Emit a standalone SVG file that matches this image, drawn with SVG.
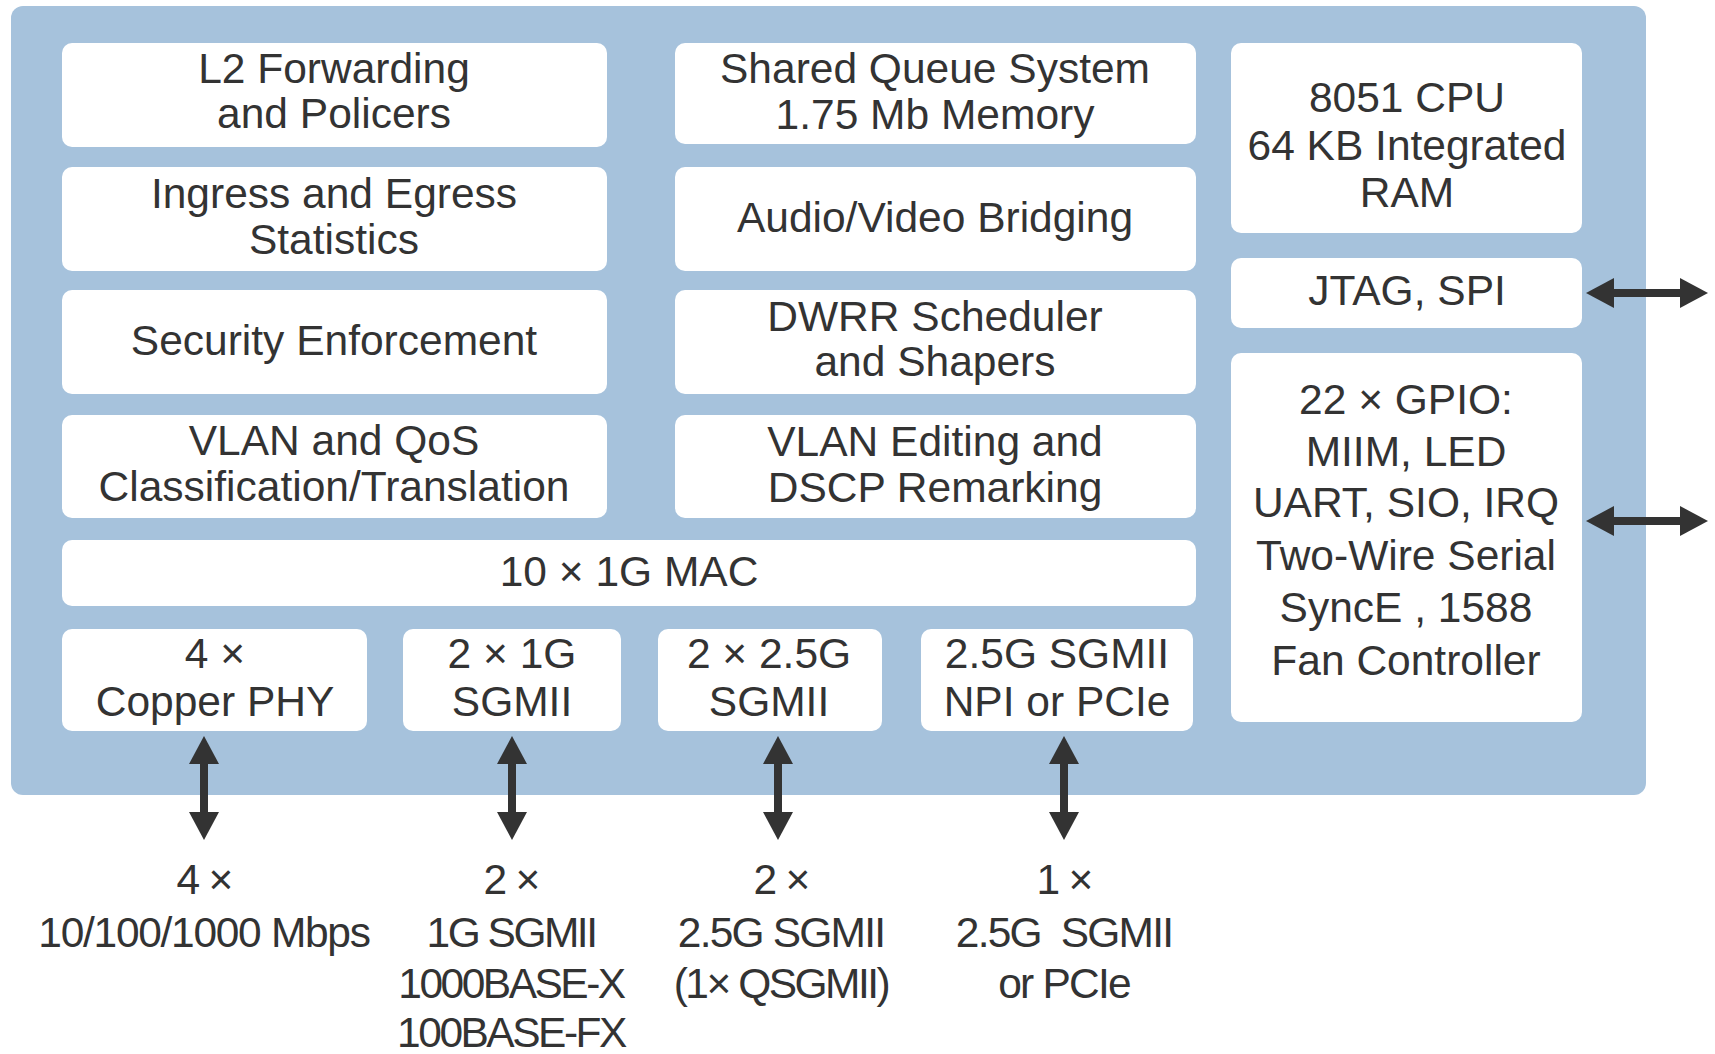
<svg xmlns="http://www.w3.org/2000/svg" width="1715" height="1054" viewBox="0 0 1715 1054">
<style>
.bg{fill:#ffffff}
.outer{fill:#a6c2dc}
.box{fill:#ffffff}
text{font-family:"Liberation Sans",Arial,sans-serif;font-size:42.5px;fill:#333333;text-anchor:middle}
.lbl{letter-spacing:-1.8px}
.wide{letter-spacing:-1.3px}
.tight{letter-spacing:-2.5px}
.con{stroke:#333333;stroke-width:8;fill:none}
</style>
<defs>
<marker id="ah" viewBox="0 0 28 30" refX="0" refY="15" markerWidth="28" markerHeight="30" markerUnits="userSpaceOnUse" orient="auto-start-reverse">
<path d="M0,0 L28,15 L0,30 Z" fill="#333333"/>
</marker>
</defs>
<rect class="bg" x="0" y="0" width="1715" height="1054"/>
<rect id="chip" class="outer" x="11" y="6" width="1635" height="789" rx="12"/>

<g id="l2fwd"><rect class="box" x="62" y="43" width="545" height="104" rx="10"/>
<text x="334" y="83">L2 Forwarding</text><text x="334" y="128">and Policers</text></g>
<g id="stats"><rect class="box" x="62" y="167" width="545" height="104" rx="10"/>
<text x="334" y="208">Ingress and Egress</text><text x="334" y="254">Statistics</text></g>
<g id="security"><rect class="box" x="62" y="290" width="545" height="104" rx="10"/>
<text x="334" y="355">Security Enforcement</text></g>
<g id="vlanqos"><rect class="box" x="62" y="415" width="545" height="103" rx="10"/>
<text x="334" y="455">VLAN and QoS</text><text x="334" y="501">Classification/Translation</text></g>

<g id="sqs"><rect class="box" x="675" y="43" width="521" height="101" rx="10"/>
<text x="935" y="83">Shared Queue System</text><text x="935" y="129">1.75 Mb Memory</text></g>
<g id="avb"><rect class="box" x="675" y="167" width="521" height="104" rx="10"/>
<text x="935" y="232">Audio/Video Bridging</text></g>
<g id="dwrr"><rect class="box" x="675" y="290" width="521" height="104" rx="10"/>
<text x="935" y="331">DWRR Scheduler</text><text x="935" y="376">and Shapers</text></g>
<g id="vlanedit"><rect class="box" x="675" y="415" width="521" height="103" rx="10"/>
<text x="935" y="456">VLAN Editing and</text><text x="935" y="502">DSCP Remarking</text></g>

<g id="mac"><rect class="box" x="62" y="540" width="1134" height="66" rx="10"/>
<text x="629" y="586">10 × 1G MAC</text></g>

<g id="cuphy"><rect class="box" x="62" y="629" width="305" height="102" rx="10"/>
<text x="215" y="668">4 ×</text><text x="215" y="716">Copper PHY</text></g>
<g id="sgmii1g"><rect class="box" x="403" y="629" width="218" height="102" rx="10"/>
<text x="512" y="668">2 × 1G</text><text x="512" y="716">SGMII</text></g>
<g id="sgmii25"><rect class="box" x="658" y="629" width="224" height="102" rx="10"/>
<text x="769" y="668">2 × 2.5G</text><text x="769" y="716">SGMII</text></g>
<g id="npi"><rect class="box" x="921" y="629" width="272" height="102" rx="10"/>
<text x="1057" y="668">2.5G SGMII</text><text x="1057" y="716">NPI or PCIe</text></g>

<g id="cpu"><rect class="box" x="1231" y="43" width="351" height="190" rx="10"/>
<text x="1407" y="112">8051 CPU</text><text x="1407" y="160">64 KB Integrated</text><text x="1407" y="207">RAM</text></g>
<g id="jtag"><rect class="box" x="1231" y="258" width="351" height="70" rx="10"/>
<text x="1407" y="305">JTAG, SPI</text></g>
<g id="gpio"><rect class="box" x="1231" y="353" width="351" height="369" rx="10"/>
<text x="1406" y="414">22 × GPIO:</text><text x="1406" y="466">MIIM, LED</text><text x="1406" y="517">UART, SIO, IRQ</text><text x="1406" y="570">Two-Wire Serial</text><text x="1406" y="622">SyncE , 1588</text><text x="1406" y="675">Fan Controller</text></g>

<g id="connectors">
<line class="con" x1="204" y1="764" x2="204" y2="812" marker-start="url(#ah)" marker-end="url(#ah)"/>
<line class="con" x1="512" y1="764" x2="512" y2="812" marker-start="url(#ah)" marker-end="url(#ah)"/>
<line class="con" x1="778" y1="764" x2="778" y2="812" marker-start="url(#ah)" marker-end="url(#ah)"/>
<line class="con" x1="1064" y1="764" x2="1064" y2="812" marker-start="url(#ah)" marker-end="url(#ah)"/>
<line class="con" x1="1614" y1="293" x2="1680" y2="293" marker-start="url(#ah)" marker-end="url(#ah)"/>
<line class="con" x1="1614" y1="521" x2="1680" y2="521" marker-start="url(#ah)" marker-end="url(#ah)"/>
</g>

<g id="port-labels">
<g id="lbl-cu"><text class="lbl" x="204" y="894">4 ×</text><text class="wide" x="204" y="947">10/100/1000 Mbps</text></g>
<g id="lbl-1g"><text class="lbl" x="511" y="894">2 ×</text><text class="tight" x="511" y="947">1G SGMII</text><text class="tight" x="511" y="998">1000BASE-X</text><text class="tight" x="511" y="1047">100BASE-FX</text></g>
<g id="lbl-25"><text class="lbl" x="781" y="894">2 ×</text><text class="lbl" x="781" y="947">2.5G SGMII</text><text class="tight" x="781" y="998">(1× QSGMII)</text></g>
<g id="lbl-npi"><text class="lbl" x="1064" y="894">1 ×</text><text class="lbl" x="1064" y="947" xml:space="preserve" style="white-space:pre">2.5G  SGMII</text><text class="lbl" x="1064" y="998">or PCIe</text></g>
</g>
</svg>
